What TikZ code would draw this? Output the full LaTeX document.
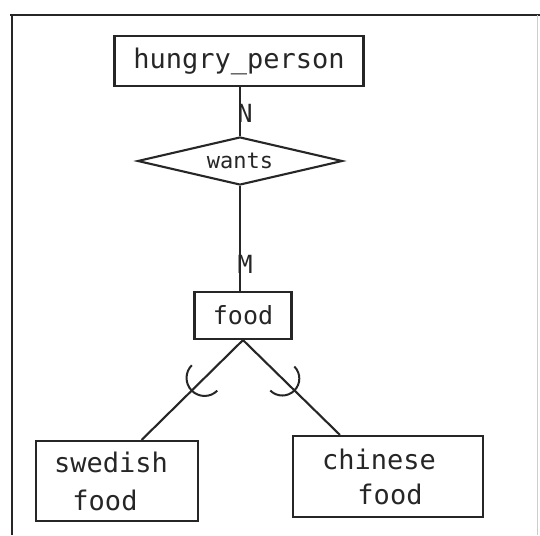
\documentclass[tikz,border=0pt]{standalone}
\usepackage{fontspec}
\setmonofont{DejaVu Sans Mono}
\usetikzlibrary{shapes.geometric,calc}
\begin{document}
\begin{tikzpicture}[x=1pt,y=1pt,
  ink/.style={draw=black!85,line width=2.1pt},
  entbox/.style={ink,rectangle,inner sep=0pt,font=\ttfamily\fontsize{27}{38}\selectfont,align=center,text=black!85},
  card/.style={inner sep=0pt,anchor=west,font=\ttfamily\fontsize{25}{25}\selectfont,text=black!85},
  conn/.style={ink},
  isa/.style={ink,line width=2pt}]
\useasboundingbox (0,0) rectangle (540,-535);
% frame
\draw[ink,line width=2.4pt] (10,-15) -- (540,-15);
\draw[ink,line width=2.4pt] (12,-15) -- (12,-535);
\draw[draw=black!20,line width=1pt] (537,-15) -- (537,-535);
% nodes
\node[entbox,minimum width=249pt,minimum height=50pt] (hp) at (239,-61) {hungry\_person};
\node[ink,shape=diamond,aspect=4,inner sep=0pt,minimum width=205pt,minimum height=48pt,
      font=\ttfamily\fontsize{22}{22}\selectfont,text=black!85] (wants) at (240,-161) {wants};
\node[entbox,minimum width=97pt,minimum height=47pt,font=\ttfamily\fontsize{25}{25}\selectfont] (food) at (243,-315.5) {food};
\node[entbox,minimum width=162pt,minimum height=80pt] (sw) at (117,-481) {swedish\hspace*{12pt}\\food\hspace*{24pt}};
\node[entbox,minimum width=190pt,minimum height=81pt,font=\ttfamily\fontsize{27}{35}\selectfont] (ch) at (388,-476.5) {chinese\hspace*{18pt}\\\hspace*{4pt}food};
% connectors
\draw[conn] (hp.south -| wants.north) -- (wants.north);
\draw[conn] (wants.south) -- (food.north -| wants.south);
\node[card] (n) at (237.5,-113) {N};
\node[card] (m) at (237.5,-264) {M};
\coordinate (swa) at ($(sw.north west)!0.65!(sw.north east)$);
\coordinate (cha) at ($(ch.north west)!0.25!(ch.north east)$);
\draw[conn] (food.south) -- (swa);
\draw[conn] (food.south) -- (cha);
% subset arcs
\coordinate (lc) at ($(food.south)!54pt!(swa)$);
\coordinate (rc) at ($(food.south)!55pt!(cha)$);
\draw[isa] (lc) ++(135:18pt) arc[start angle=135,end angle=315,radius=18pt];
\draw[isa] (rc) ++(225:17pt) arc[start angle=225,end angle=405,radius=17pt];
\end{tikzpicture}
\end{document}
